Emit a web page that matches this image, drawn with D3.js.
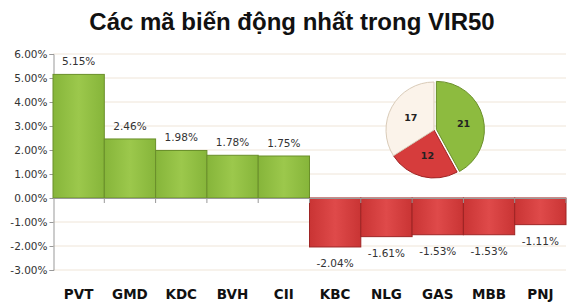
<!DOCTYPE html>
<html><head><meta charset="utf-8">
<script src="https://cdn.jsdelivr.net/npm/d3@7"></script>
<style>body{margin:0;background:#fff;}svg{display:block;}</style>
</head><body>
<svg id="c" width="572" height="305"></svg>
<script>
const categories = ["PVT","GMD","KDC","BVH","CII","KBC","NLG","GAS","MBB","PNJ"];
const values = [5.15, 2.46, 1.98, 1.78, 1.75, -2.04, -1.61, -1.53, -1.53, -1.11];
const yTicks = [6,5,4,3,2,1,0,-1,-2,-3];
const pieLabels = ["Tăng","Giảm","Đứng giá"];
const pieValues = [21, 12, 17];
const title = "Các mã biến động nhất trong VIR50";

const svg = d3.select("#c");
const defs = svg.append("defs");
function grad(id, c1, c2, c3){
  const g = defs.append("linearGradient").attr("id", id).attr("x1","0").attr("x2","1").attr("y1","0").attr("y2","0");
  g.append("stop").attr("offset","0").attr("stop-color", c1);
  g.append("stop").attr("offset","0.5").attr("stop-color", c2);
  g.append("stop").attr("offset","1").attr("stop-color", c3);
}
grad("gG", "#86b53a", "#9cc84c", "#86b53a");
grad("gR", "#c93434", "#df4a4a", "#c93434");

svg.append("text").attr("x", 292).attr("y", 30).attr("text-anchor","middle")
  .attr("font-family","Liberation Sans, Arial, sans-serif").attr("font-weight","bold")
  .attr("font-size", 24).attr("fill","#111").text(title);

const x = d3.scaleBand().domain(categories).range([53, 566]).padding(0);
const y = d3.scaleLinear().domain([-3, 6]).range([270, 54]);

// gridlines
svg.append("g").selectAll("line").data(yTicks).join("line")
  .attr("x1", 53).attr("x2", 566).attr("y1", d=>y(d)).attr("y2", d=>y(d))
  .attr("stroke", "#efe5d8").attr("stroke-width", 1);

// y axis
const yAxis = d3.axisLeft(y).tickValues(yTicks).tickSize(4).tickFormat(d=>d.toFixed(2)+"%");
const ya = svg.append("g").attr("transform","translate(53.5,0)").call(yAxis);
ya.select(".domain").attr("stroke","#999");
ya.selectAll(".tick line").attr("stroke","#999");
ya.selectAll(".tick text").attr("font-family","Tahoma, DejaVu Sans, sans-serif").attr("font-size",10.5).attr("fill","#333").attr("x",-6);

// bars
svg.append("g").selectAll("rect").data(values).join("rect")
  .attr("x", (d,i)=>x(categories[i]))
  .attr("width", x.bandwidth())
  .attr("y", d=>y(Math.max(0,d)))
  .attr("height", d=>Math.abs(y(d)-y(0)))
  .attr("fill", d=> d>=0 ? "url(#gG)" : "url(#gR)")
  .attr("stroke", d=> d>=0 ? "#6a8f2a" : "#9e2424").attr("stroke-width", 1);

// x axis (zero line + ticks)
svg.append("line").attr("x1",53).attr("x2",566).attr("y1",y(0)+0.5).attr("y2",y(0)+0.5).attr("stroke","#999");
svg.append("g").selectAll("line").data(categories).join("line")
  .attr("x1", d=>x(d)+x.bandwidth()).attr("x2", d=>x(d)+x.bandwidth())
  .attr("y1", y(0)).attr("y2", y(0)+5).attr("stroke","#999");

// value labels
svg.append("g").selectAll("text").data(values).join("text")
  .attr("x", (d,i)=>x(categories[i])+x.bandwidth()/2)
  .attr("y", d=> d>=0 ? y(d)-9 : y(d)+20)
  .attr("text-anchor","middle")
  .attr("font-family","Tahoma, DejaVu Sans, sans-serif").attr("font-size",10.5).attr("fill","#333")
  .text(d=>d.toFixed(2)+"%");

// category labels
svg.append("g").selectAll("text").data(categories).join("text")
  .attr("x", d=>x(d)+x.bandwidth()/2).attr("y", 299)
  .attr("text-anchor","middle")
  .attr("font-family","Tahoma, DejaVu Sans, sans-serif").attr("font-weight","bold").attr("font-size",13.5).attr("fill","#111")
  .text(d=>d);

// pie
const pieColors = ["#8dbb3f","#d63c3c","#fbf3ea"];
const pieStroke = ["#6a8f2a","#9e2424","#d9cbb8"];
const cx = 434, cy = 130, r = 48;
const arcs = d3.pie().sort(null)(pieValues);
const arc = d3.arc().innerRadius(0).outerRadius(r);
const pg = svg.append("g").attr("transform",`translate(${cx},${cy})`);
pg.selectAll("path").data(arcs).join("path")
  .attr("d", arc)
  .attr("transform", (d,i)=>{ if(i!==0) return null; const c = d3.arc().innerRadius(0).outerRadius(5).centroid(d); return `translate(${c[0]},${c[1]})`; })
  .attr("fill", (d,i)=>pieColors[i])
  .attr("stroke", (d,i)=>pieStroke[i]).attr("stroke-width",1);
const larc = d3.arc().innerRadius(r*0.55).outerRadius(r*0.55);
pg.selectAll("text").data(arcs).join("text")
  .attr("transform", (d,i)=>{ const c = larc.centroid(d); return `translate(${c[0]+(i===0?4:0)},${c[1]})`; })
  .attr("text-anchor","middle").attr("dy","0.35em")
  .attr("font-family","Tahoma, DejaVu Sans, sans-serif").attr("font-weight","bold").attr("font-size",9.5).attr("fill","#222")
  .text(d=>d.data);
</script>
</body></html>
